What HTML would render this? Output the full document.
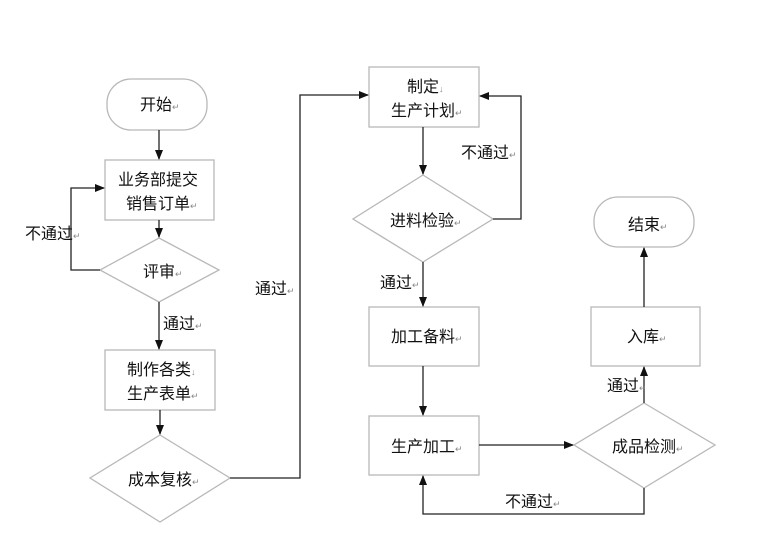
<!DOCTYPE html>
<html><head><meta charset="utf-8"><style>
html,body{margin:0;padding:0;background:#fff;}
svg{display:block;}
text{font-family:"Liberation Sans","Noto Sans CJK SC",sans-serif;font-size:16px;fill:#111;}
.r{font-size:9px;fill:#888;}
</style></head><body>
<svg width="762" height="538" viewBox="0 0 762 538" xmlns="http://www.w3.org/2000/svg">
<defs><marker id="a" markerWidth="10" markerHeight="10" refX="9" refY="5" orient="auto" markerUnits="userSpaceOnUse"><path d="M0,1 L10,5 L0,9 Z" fill="#111"/></marker></defs>
<g fill="#fff" stroke="#b8b8b8" stroke-width="1.3">
<rect x="107" y="79" width="100" height="51" rx="24"/>
<rect x="105" y="160" width="109" height="60"/>
<polygon points="159,238 219,270 159,302 100,270"/>
<rect x="105" y="350" width="110" height="60"/>
<polygon points="160,435 230,478 160,522 90,478"/>
<rect x="369" y="67" width="110" height="60"/>
<polygon points="423,175 493,219 423,262 353,219"/>
<rect x="369" y="307" width="110" height="59"/>
<rect x="369" y="416" width="110" height="59"/>
<polygon points="644,403 715,445 644,488 574,445"/>
<rect x="591" y="307" width="109" height="59"/>
<rect x="594" y="197" width="100" height="50" rx="24"/>
</g>
<g stroke="#222" stroke-width="1.3" fill="none">
<line x1="159" y1="130" x2="159" y2="159" marker-end="url(#a)"/>
<line x1="159" y1="220" x2="159" y2="237" marker-end="url(#a)"/>
<polyline points="100,270 71,270 71,188 104,188" marker-end="url(#a)"/>
<line x1="159" y1="302" x2="159" y2="349" marker-end="url(#a)"/>
<line x1="160" y1="410" x2="160" y2="434" marker-end="url(#a)"/>
<polyline points="230,478 300,478 300,95 368,95" marker-end="url(#a)"/>
<line x1="423" y1="127" x2="423" y2="174" marker-end="url(#a)"/>
<polyline points="493,219 521,219 521,96 480,96" marker-end="url(#a)"/>
<line x1="423" y1="262" x2="423" y2="306" marker-end="url(#a)"/>
<line x1="423" y1="366" x2="423" y2="415" marker-end="url(#a)"/>
<line x1="479" y1="445" x2="573" y2="445" marker-end="url(#a)"/>
<polyline points="644,488 644,514 423,514 423,476" marker-end="url(#a)"/>
<line x1="644" y1="403" x2="644" y2="367" marker-end="url(#a)"/>
<line x1="644" y1="307" x2="644" y2="248" marker-end="url(#a)"/>
</g>
<text x="140" y="110">开始<tspan class="r">↵</tspan></text>
<text x="118" y="185">业务部提交</text>
<text x="126" y="209">销售订单<tspan class="r">↵</tspan></text>
<text x="143" y="277">评审<tspan class="r">↵</tspan></text>
<text x="127" y="375">制作各类<tspan class="r">↓</tspan></text>
<text x="127" y="399">生产表单<tspan class="r">↵</tspan></text>
<text x="128" y="485">成本复核<tspan class="r">↵</tspan></text>
<text x="25" y="239">不通过<tspan class="r">↵</tspan></text>
<text x="163" y="329">通过<tspan class="r">↵</tspan></text>
<text x="255" y="294">通过<tspan class="r">↵</tspan></text>
<text x="407" y="92">制定<tspan class="r">↓</tspan></text>
<text x="391" y="116">生产计划<tspan class="r">↵</tspan></text>
<text x="390" y="226">进料检验<tspan class="r">↵</tspan></text>
<text x="461" y="158">不通过<tspan class="r">↵</tspan></text>
<text x="380" y="288">通过<tspan class="r">↵</tspan></text>
<text x="391" y="342">加工备料<tspan class="r">↵</tspan></text>
<text x="391" y="452">生产加工<tspan class="r">↵</tspan></text>
<text x="612" y="452">成品检测<tspan class="r">↵</tspan></text>
<text x="505" y="507">不通过<tspan class="r">↵</tspan></text>
<text x="607" y="391">通过<tspan class="r">↵</tspan></text>
<text x="627" y="342">入库<tspan class="r">↵</tspan></text>
<text x="628" y="230">结束<tspan class="r">↵</tspan></text>
</svg>
</body></html>
